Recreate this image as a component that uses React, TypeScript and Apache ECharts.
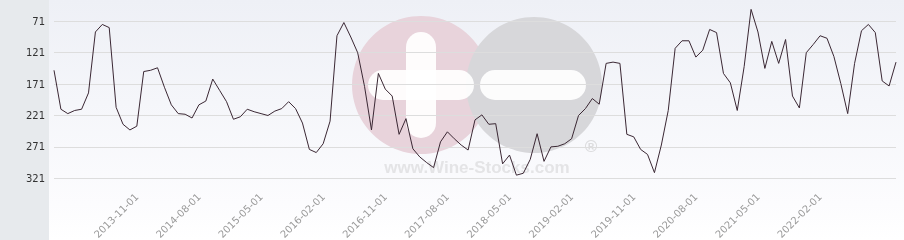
import React, { useEffect, useRef } from "react";
import * as echarts from "echarts";

const START_YEAR = 2012;
const START_MONTH = 11;
const RANKS = [
  149, 211, 218, 213, 211, 185, 88, 76, 81, 208, 235, 244, 238, 151, 149, 145, 176, 204, 218, 219,
  225, 204, 198, 163, 181, 199, 227, 223, 211, 215, 218, 221, 214, 210, 199, 210, 233, 275, 280, 266,
  230, 94, 73, 96, 121, 175, 244, 154, 179, 190, 251, 226, 274, 287, 296, 304, 263, 247, 258, 268,
  276, 228, 220, 235, 234, 298, 284, 316, 313, 291, 250, 294, 271, 270, 266, 258, 221, 210, 194, 203,
  138, 136, 138, 251, 255, 275, 283, 312, 268, 213, 114, 102, 102, 128, 117, 84, 89, 154, 169, 213,
  143, 52, 88, 146, 103, 138, 100, 190, 209, 121, 108, 94, 98, 127, 170, 218, 138, 86, 76, 89,
  166, 174, 136,
];
const X_LABELS = [
  "2013-11-01", "2014-08-01", "2015-05-01", "2016-02-01", "2016-11-01", "2017-08-01",
  "2018-05-01", "2019-02-01", "2019-11-01", "2020-08-01", "2021-05-01", "2022-02-01",
];
const Y_TICKS = [71, 121, 171, 221, 271, 321];

const CATEGORIES: string[] = RANKS.map((_, i) => {
  const m0 = START_MONTH - 1 + i;
  const y = START_YEAR + Math.floor(m0 / 12);
  const m = (m0 % 12) + 1;
  return `${y}-${String(m).padStart(2, "0")}-01`;
});

export default function App() {
  const ref = useRef<HTMLDivElement>(null);
  useEffect(() => {
    if (!ref.current) return;
    const chart = echarts.init(ref.current, undefined, { renderer: "svg" });
    const font = "DejaVu Sans, sans-serif";
    chart.setOption({
      animation: false,
      grid: { left: 54, right: 8, top: 5.6, bottom: 46, containLabel: false, outerBoundsMode: "none" },
      graphic: [
        { type: "rect", z: -20, silent: true, shape: { x: 0, y: 0, width: 49, height: 240 }, style: { fill: "#e7eaed" } },
        {
          type: "rect", z: -20, silent: true,
          shape: { x: 49, y: 0, width: 855, height: 240 },
          style: {
            fill: new echarts.graphic.LinearGradient(0, 0, 0, 1, [
              { offset: 0, color: "#eef0f6" },
              { offset: 0.85, color: "#fcfcfe" },
              { offset: 1, color: "#ffffff" },
            ]),
          },
        },
        { type: "circle", z: -10, silent: true, shape: { cx: 421, cy: 85, r: 69 }, style: { fill: "#e8d3db" } },
        { type: "circle", z: -9, silent: true, shape: { cx: 534, cy: 85, r: 68 }, style: { fill: "#d7d7da" } },
        { type: "rect", z: -8, silent: true, shape: { x: 406, y: 32, width: 30, height: 106, r: 15 }, style: { fill: "#ffffff", opacity: 0.92 } },
        { type: "rect", z: -8, silent: true, shape: { x: 368, y: 70, width: 106, height: 30, r: 15 }, style: { fill: "#ffffff", opacity: 0.92 } },
        { type: "rect", z: -8, silent: true, shape: { x: 480, y: 70, width: 106, height: 30, r: 15 }, style: { fill: "#ffffff", opacity: 0.92 } },
        {
          type: "text", z: -8, silent: true, x: 477, y: 167,
          style: { text: "www.Wine-Stocks.com", fill: "#e4e4e6", font: "bold 17px 'Liberation Sans', Arial, sans-serif", align: "center", verticalAlign: "middle" },
        },
        {
          type: "text", z: -8, silent: true, x: 591, y: 146,
          style: { text: "®", fill: "#dcdcde", font: "bold 17px 'Liberation Sans', Arial, sans-serif", align: "center", verticalAlign: "middle" },
        },
      ],
      xAxis: {
        type: "category",
        data: CATEGORIES,
        boundaryGap: false,
        axisLine: { show: false },
        axisTick: { show: false },
        splitLine: { show: false },
        axisLabel: {
          rotate: 45,
          margin: 1,
          color: "#9a9a9a",
          fontFamily: font,
          fontSize: 10,
          hideOverlap: false,
          interval: (_i: number, v: string) => X_LABELS.includes(v),
        },
      },
      yAxis: {
        type: "value",
        inverse: true,
        min: 46,
        max: 346,
        interval: 25,
        axisLine: { show: false },
        axisTick: { show: false },
        axisLabel: {
          margin: 9,
          color: "#333333",
          fontFamily: font,
          fontSize: 10,
          formatter: (v: number) => (Y_TICKS.includes(v) ? String(v) : ""),
        },
        splitLine: { show: true, lineStyle: { color: ["transparent", "#dddddd"], width: 1 } },
      },
      series: [
        {
          type: "line",
          data: RANKS,
          symbol: "none",
          lineStyle: { color: "#3a2733", width: 1 },
          z: 3,
        },
      ],
    });
    return () => chart.dispose();
  }, []);
  return <div ref={ref} style={{ position: "fixed", left: 0, top: 0, width: 904, height: 240 }} />;
}
